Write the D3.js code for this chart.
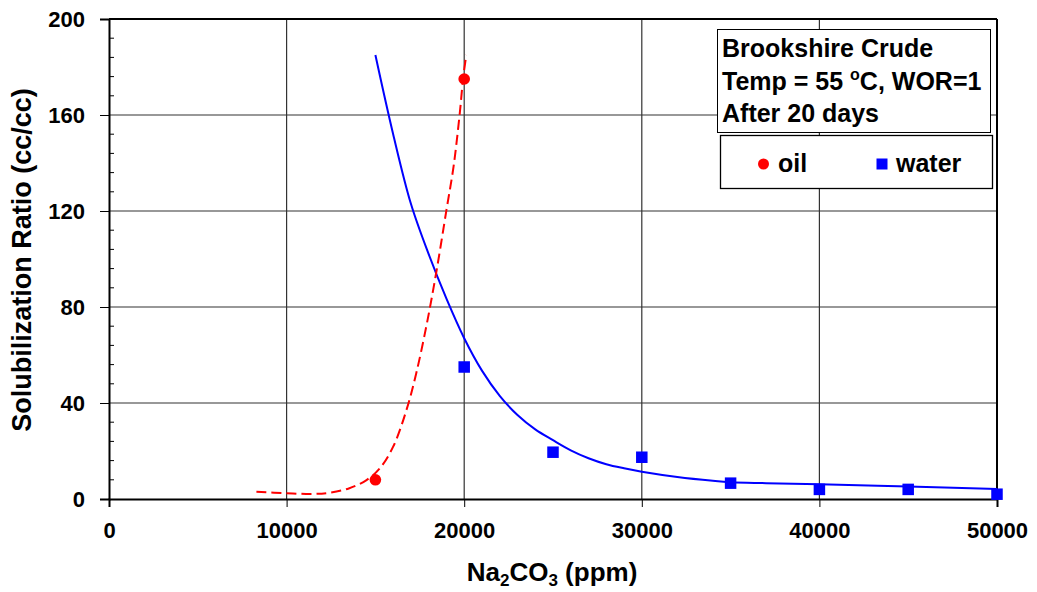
<!DOCTYPE html>
<html>
<head>
<meta charset="utf-8">
<script src="https://cdn.jsdelivr.net/npm/d3@7"></script>
<style>
  body { margin: 0; background: #fff; }
  svg { display: block; font-family: Arial, "Liberation Sans", sans-serif; }
</style>
</head>
<body>
<svg id="chart" width="1037" height="592"></svg>
<script>
// ---- data ----
const xTicks = [0, 10000, 20000, 30000, 40000, 50000];
const yTicks = [0, 40, 80, 120, 160, 200];

const oilX = [15000, 20000];
const oilY = [8, 175];

const waterX = [20000, 25000, 30000, 35000, 40000, 45000, 50000];
const waterY = [55, 19.5, 17.4, 6.6, 4.0, 4.0, 2.0];

// fitted trend lines
const oilFitX = [8300, 10000, 11500, 12400, 13500, 14500, 15250, 16000, 16750, 17300, 17900, 18450, 19000, 19400, 19750, 19950, 20120];
const oilFitY = [3.0, 2.4, 2.1, 2.6, 4.4, 7.9, 12.8, 21.8, 37.1, 52.4, 73.2, 95.4, 120.4, 138.5, 160.7, 176, 185];

const waterFitX = [15000, 16000, 17000, 18000, 19000, 20000, 21000, 22000, 23000, 24000, 25000, 26000, 27000, 28000, 29000, 30000, 32000, 34000, 35000, 37000, 40000, 45000, 50000];
const waterFitY = [185, 152, 123, 102, 83.5, 67, 53.5, 43, 35, 29, 24.5, 20.3, 17, 14.5, 12.8, 11.4, 9.2, 7.6, 7.0, 6.6, 6.1, 5.2, 4.2];

const titleLines = ["Brookshire Crude", "Temp = 55 °C, WOR=1", "After 20 days"];
const seriesNames = ["oil", "water"];

// ---- layout ----
const svg = d3.select("#chart");
const L = 109, T = 19, W = 888, H = 480;
const FONT = "Arial, 'Liberation Sans', sans-serif";

const x = d3.scaleLinear().domain([0, 50000]).range([L, L + W]);
const y = d3.scaleLinear().domain([0, 200]).range([T + H, T]);

// gridlines
const grid = svg.append("g");
grid.selectAll(".hg").data(yTicks.filter(d => d > 0)).join("line")
  .attr("x1", L).attr("x2", L + W)
  .attr("y1", d => y(d)).attr("y2", d => y(d))
  .attr("stroke", "#333").attr("stroke-width", 1.2);
grid.selectAll(".vg").data(xTicks.filter(d => d > 0)).join("line")
  .attr("y1", T).attr("y2", T + H)
  .attr("x1", d => x(d)).attr("x2", d => x(d))
  .attr("stroke", "#333").attr("stroke-width", 1.2);

// frame top/right
svg.append("line").attr("x1", L).attr("x2", L + W).attr("y1", T).attr("y2", T)
  .attr("stroke", "#000").attr("stroke-width", 2);
svg.append("line").attr("x1", L + W).attr("x2", L + W).attr("y1", T).attr("y2", T + H)
  .attr("stroke", "#000").attr("stroke-width", 2);

// y axis
const yAxis = svg.append("g").attr("transform", `translate(${L},0)`)
  .call(d3.axisLeft(y).tickValues(yTicks).tickSize(9).tickPadding(15).tickFormat(d3.format("d")));
yAxis.select(".domain").attr("stroke", "#000").attr("stroke-width", 2);
yAxis.selectAll(".tick line").attr("stroke", "#000").attr("stroke-width", 1);
yAxis.selectAll(".tick text").attr("font-size", 22).attr("font-weight", "bold")
  .attr("font-family", FONT).attr("fill", "#000").attr("dy", "0.34em");
// minor ticks inside
const minor = d3.range(0, 201, 8).filter(d => d % 40 !== 0);
svg.append("g").selectAll("line").data(minor).join("line")
  .attr("x1", L).attr("x2", L + 5)
  .attr("y1", d => y(d)).attr("y2", d => y(d))
  .attr("stroke", "#000").attr("stroke-width", 1);

// x axis
const xAxis = svg.append("g").attr("transform", `translate(0,${T + H})`)
  .call(d3.axisBottom(x).tickValues(xTicks).tickSize(8).tickPadding(15).tickFormat(d3.format("d")));
xAxis.select(".domain").attr("stroke", "#000").attr("stroke-width", 2);
xAxis.selectAll(".tick line").attr("stroke", "#000").attr("stroke-width", 1);
xAxis.selectAll(".tick text").attr("font-size", 22).attr("font-weight", "bold")
  .attr("font-family", FONT).attr("fill", "#000");

// axis titles
svg.append("text")
  .attr("transform", `translate(31,${T + H / 2 + 1}) rotate(-90)`)
  .attr("text-anchor", "middle")
  .attr("font-size", 27).attr("font-weight", "bold")
  .text("Solubilization Ratio (cc/cc)");

const xt = svg.append("text")
  .attr("x", 552).attr("y", 581)
  .attr("text-anchor", "middle")
  .attr("font-size", 26).attr("font-weight", "bold");
xt.append("tspan").text("Na");
xt.append("tspan").attr("font-size", 17).attr("dy", 5).text("2");
xt.append("tspan").attr("dy", -5).text("CO");
xt.append("tspan").attr("font-size", 17).attr("dy", 5).text("3");
xt.append("tspan").attr("dy", -5).text(" (ppm)");

// lines
const oilFit = oilFitX.map((d, i) => [d, oilFitY[i]]);
const waterFit = waterFitX.map((d, i) => [d, waterFitY[i]]);
const line = d3.line().x(d => x(d[0])).y(d => y(d[1])).curve(d3.curveCatmullRom.alpha(0.5));

svg.append("path").datum(waterFit).attr("d", line)
  .attr("fill", "none").attr("stroke", "#0000ff").attr("stroke-width", 2);
svg.append("path").datum(oilFit).attr("d", line)
  .attr("fill", "none").attr("stroke", "#ff0000").attr("stroke-width", 2)
  .attr("stroke-dasharray", "10,5");

// markers
svg.append("g").selectAll("circle").data(oilX.map((d, i) => [d, oilY[i]])).join("circle")
  .attr("cx", d => x(d[0])).attr("cy", d => y(d[1])).attr("r", 5.8).attr("fill", "#ff0000");
const sq = 11.5;
svg.append("g").selectAll("rect").data(waterX.map((d, i) => [d, waterY[i]])).join("rect")
  .attr("x", d => x(d[0]) - sq / 2).attr("y", d => y(d[1]) - sq / 2)
  .attr("width", sq).attr("height", sq).attr("fill", "#0000ff");

// title box
svg.append("rect").attr("x", 717.5).attr("y", 29.5).attr("width", 273).attr("height", 103)
  .attr("fill", "#fff").attr("stroke", "#000").attr("stroke-width", 1);
const tb = svg.append("g").attr("font-size", 25).attr("font-weight", "bold");
tb.append("text").attr("x", 722).attr("y", 57).text(titleLines[0]);
const t2 = tb.append("text").attr("x", 722).attr("y", 90);
t2.append("tspan").text("Temp = 55 ");
t2.append("tspan").attr("font-size", 16).attr("dy", -10).text("o");
t2.append("tspan").attr("dy", 10).text("C, WOR=1");
tb.append("text").attr("x", 722).attr("y", 122).text(titleLines[2]);

// legend box
svg.append("rect").attr("x", 720.5).attr("y", 135.5).attr("width", 272).attr("height", 53)
  .attr("fill", "#fff").attr("stroke", "#000").attr("stroke-width", 1.3);
svg.append("circle").attr("cx", 763.5).attr("cy", 164).attr("r", 5.5).attr("fill", "#ff0000");
svg.append("text").attr("x", 778).attr("y", 172).attr("font-size", 25).attr("font-weight", "bold").text(seriesNames[0]);
svg.append("rect").attr("x", 876.5).attr("y", 158.5).attr("width", 11).attr("height", 11).attr("fill", "#0000ff");
svg.append("text").attr("x", 896).attr("y", 172).attr("font-size", 25).attr("font-weight", "bold").text(seriesNames[1]);
</script>
</body>
</html>
